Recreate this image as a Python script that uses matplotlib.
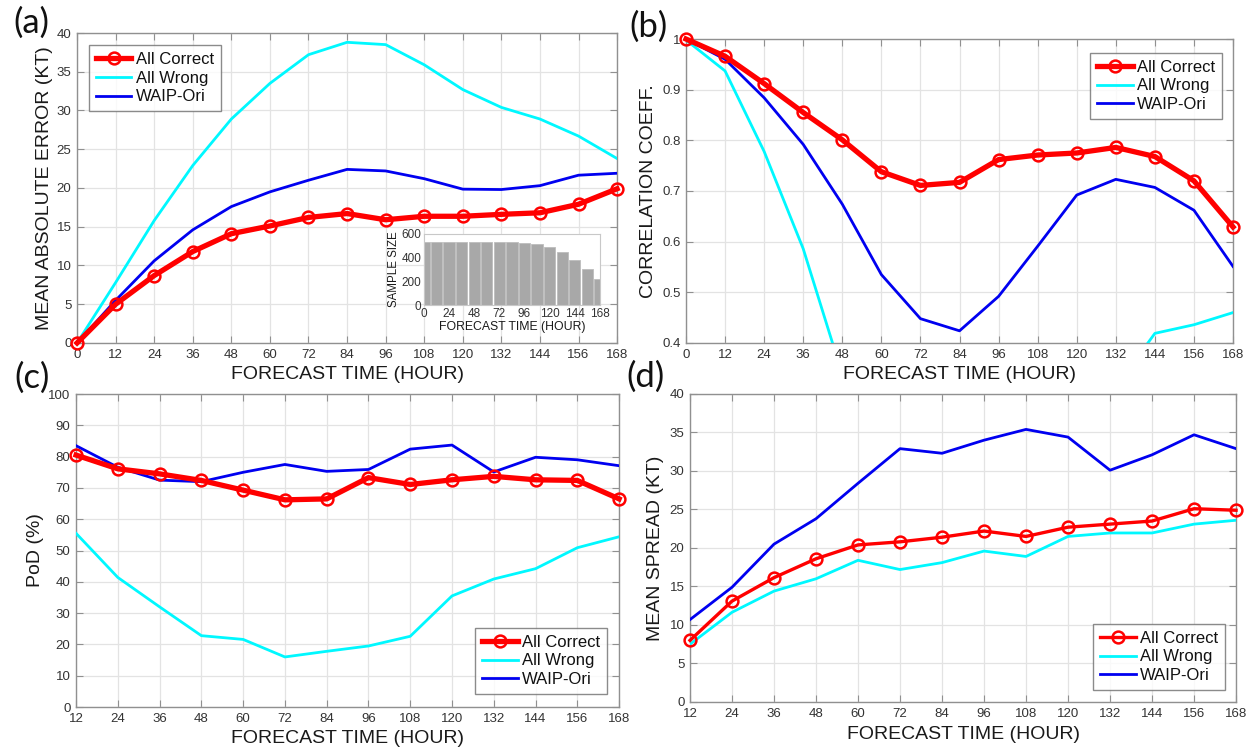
import numpy as np
import matplotlib
matplotlib.use("Agg")
import matplotlib.pyplot as plt

plt.rcParams['font.family'] = ['Liberation Sans', 'DejaVu Sans']

# ---------------- data ----------------
hours_ab = [0, 12, 24, 36, 48, 60, 72, 84, 96, 108, 120, 132, 144, 156, 168]
hours_cd = [12, 24, 36, 48, 60, 72, 84, 96, 108, 120, 132, 144, 156, 168]

mae_correct = [0.0, 5.0, 8.7, 11.8, 14.1, 15.1, 16.2, 16.7, 15.9, 16.35, 16.35, 16.6, 16.8, 17.9, 19.9]
mae_wrong = [0.0, 7.8, 15.8, 22.9, 28.9, 33.5, 37.2, 38.8, 38.5, 35.9, 32.7, 30.4, 28.9, 26.7, 23.8]
mae_waip = [0.0, 5.5, 10.6, 14.6, 17.6, 19.5, 21.0, 22.4, 22.2, 21.2, 19.85, 19.8, 20.3, 21.65, 21.9]

sample_size = [533, 533, 533, 533, 533, 533, 533, 533, 524, 513, 493, 451, 381, 303, 219]

cc_correct = [1.0, 0.966, 0.912, 0.855, 0.801, 0.738, 0.711, 0.717, 0.762, 0.771, 0.775, 0.786, 0.768, 0.720, 0.629]
cc_wrong = [0.998, 0.937, 0.778, 0.586, 0.338, 0.25, 0.20, 0.18, 0.19, 0.22, 0.27, 0.313, 0.419, 0.436, 0.460]
cc_waip = [1.0, 0.960, 0.884, 0.792, 0.674, 0.535, 0.448, 0.424, 0.492, 0.591, 0.692, 0.723, 0.707, 0.662, 0.551]

pod_correct = [80.5, 76.1, 74.5, 72.4, 69.3, 66.2, 66.5, 73.3, 71.1, 72.6, 73.7, 72.6, 72.4, 66.5]
pod_wrong = [55.5, 41.4, 32.0, 22.8, 21.6, 16.0, 17.8, 19.5, 22.6, 35.5, 40.9, 44.2, 50.9, 54.4]
pod_waip = [83.5, 76.6, 72.5, 72.0, 75.0, 77.5, 75.3, 75.9, 82.4, 83.7, 75.1, 79.8, 79.0, 77.1]

spr_correct = [8.0, 13.1, 16.15, 18.6, 20.4, 20.8, 21.4, 22.2, 21.5, 22.7, 23.1, 23.5, 25.1, 24.9]
spr_wrong = [7.5, 11.65, 14.4, 16.0, 18.4, 17.2, 18.1, 19.6, 18.9, 21.5, 21.95, 21.95, 23.1, 23.6]
spr_waip = [10.7, 14.9, 20.5, 23.8, 28.4, 32.9, 32.3, 34.0, 35.4, 34.4, 30.1, 32.1, 34.7, 32.9]

labels = ['All Correct', 'All Wrong', 'WAIP-Ori']
xlabel = 'FORECAST TIME (HOUR)'

RED = '#ff0000'
CYAN = '#00f8ff'
BLUE = '#0000f0'
SPINE = '#909090'
TICKC = '#333333'
LABC = '#1a1a1a'

fig = plt.figure(figsize=(12.55, 7.5), dpi=100)


def style_axes(ax, tick_fs=9.5):
    for s in ax.spines.values():
        s.set_color(SPINE)
        s.set_linewidth(1.0)
    ax.tick_params(direction='in', top=True, right=True, color=SPINE,
                   labelcolor=TICKC, labelsize=tick_fs, length=5, width=0.8, pad=4)
    ax.grid(True, color='#e3e3e3', linewidth=0.9)
    ax.set_axisbelow(True)


def plot_three(ax, x, yc, yw, yb, red_lw=3.8):
    ax.plot(x, yc, color=RED, lw=red_lw, marker='o', ms=8.5, mfc='none',
            mec=RED, mew=1.8, label=labels[0], zorder=5, clip_on=False)
    ax.plot(x, yw, color=CYAN, lw=2.0, label=labels[1], zorder=3)
    ax.plot(x, yb, color=BLUE, lw=2.0, label=labels[2], zorder=4)


def labels_xy(ax, ylab, xl_y, yl_x, ylab_fs=14):
    ax.set_xlabel(xlabel, fontsize=14, color=LABC, va='center')
    ax.xaxis.set_label_coords(0.5, xl_y)
    ax.set_ylabel(ylab, fontsize=ylab_fs, color=LABC, va='center')
    ax.yaxis.set_label_coords(yl_x, 0.5)


def legend(ax, loc, anchor):
    lg = ax.legend(loc=loc, bbox_to_anchor=anchor, fontsize=12, frameon=True,
                   fancybox=False, edgecolor='#6e6e6e', handlelength=2.15,
                   handletextpad=0.28, labelspacing=0.23, borderpad=0.4,
                   borderaxespad=0.0)
    lg.get_frame().set_linewidth(1.0)
    for t in lg.get_texts():
        t.set_color('#111111')
    return lg


# ---------------- (a) ----------------
axa = fig.add_axes([0.0614, 0.5427, 0.4303, 0.4133])
style_axes(axa)
plot_three(axa, hours_ab, mae_correct, mae_wrong, mae_waip)
axa.set_xlim(0, 168)
axa.set_ylim(0, 40)
axa.set_xticks(hours_ab)
axa.set_yticks(np.arange(0, 41, 5))
labels_xy(axa, 'MEAN ABSOLUTE ERROR (KT)', -0.103, -0.061)
legend(axa, 'upper left', (0.022, 0.961))

# inset
axi = fig.add_axes([0.3378, 0.5933, 0.1402, 0.0947])
axi.bar(hours_ab, sample_size, width=10.8, color='#a8a8a8', edgecolor='#bdbdbd', linewidth=0.6)
axi.set_xlim(0, 168)
axi.set_ylim(0, 600)
axi.set_xticks(np.arange(0, 169, 24))
axi.set_yticks([0, 200, 400, 600])
for s in axi.spines.values():
    s.set_color('#c8c8c8')
    s.set_linewidth(0.8)
axi.tick_params(direction='in', length=0, labelsize=8.5, labelcolor=TICKC, pad=2)
axi.set_xlabel(xlabel, fontsize=8.8, color=LABC, labelpad=1)
axi.set_ylabel('SAMPLE SIZE', fontsize=8.3, color=LABC, labelpad=1)

# ---------------- (b) ----------------
axb = fig.add_axes([0.5466, 0.5427, 0.4359, 0.4053])
style_axes(axb)
plot_three(axb, hours_ab, cc_correct, cc_wrong, cc_waip)
axb.set_xlim(0, 168)
axb.set_ylim(0.4, 1.0)
axb.set_xticks(hours_ab)
axb.set_yticks(np.round(np.arange(0.4, 1.01, 0.1), 1))
axb.set_yticklabels(['0.4', '0.5', '0.6', '0.7', '0.8', '0.9', '1'])
labels_xy(axb, 'CORRELATION COEFF.', -0.105, -0.068)
legend(axb, 'upper right', (0.980, 0.954))

# ---------------- (c) ----------------
axc = fig.add_axes([0.0606, 0.0573, 0.4327, 0.4173])
style_axes(axc)
plot_three(axc, hours_cd, pod_correct, pod_wrong, pod_waip)
axc.set_xlim(12, 168)
axc.set_ylim(0, 100)
axc.set_xticks(hours_cd)
axc.set_yticks(np.arange(0, 101, 10))
labels_xy(axc, 'PoD (%)', -0.099, -0.074)
legend(axc, 'lower right', (0.978, 0.042))

# ---------------- (d) ----------------
axd = fig.add_axes([0.5498, 0.064, 0.4351, 0.4107])
style_axes(axd)
plot_three(axd, hours_cd, spr_correct, spr_wrong, spr_waip, red_lw=2.4)
axd.set_xlim(12, 168)
axd.set_ylim(0, 40)
axd.set_xticks(hours_cd)
axd.set_yticks(np.arange(0, 41, 5))
labels_xy(axd, 'MEAN SPREAD (KT)', -0.107, -0.064)
legend(axd, 'lower right', (0.980, 0.039))

# panel letters
for txt, x, y in [('(a)', 31, 23), ('(b)', 648, 27), ('(c)', 32, 378), ('(d)', 645, 377)]:
    fig.text(x / 1255, 1 - y / 750, txt, fontsize=25, family=['Lato', 'DejaVu Sans'],
             color='#111111', ha='center', va='center')

fig.savefig('out.png', dpi=100)
